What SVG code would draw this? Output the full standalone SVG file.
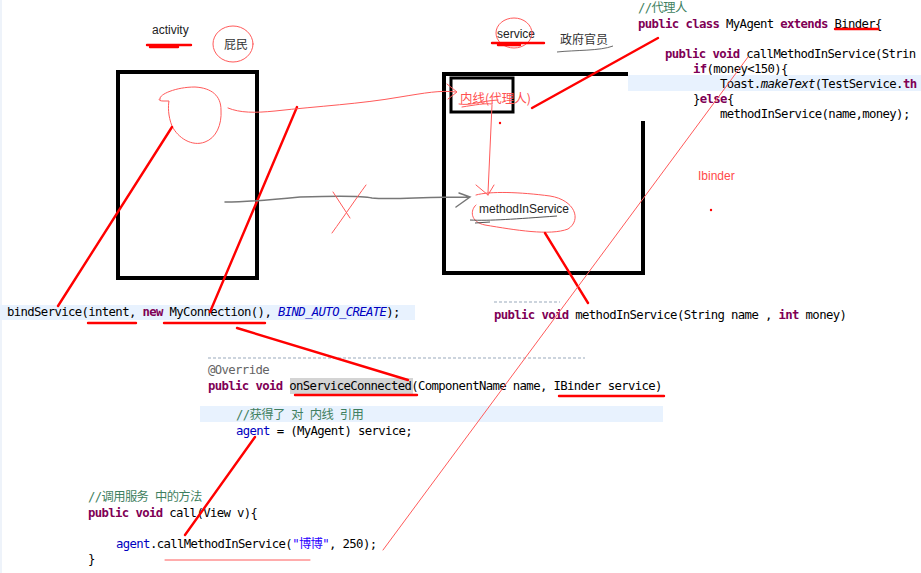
<svg xmlns="http://www.w3.org/2000/svg" width="921" height="573" viewBox="0 0 921 573">
<defs>
<style>
.code{font-family:"DejaVu Sans Mono","Liberation Mono","Noto Sans CJK SC",monospace;font-size:12.3px;letter-spacing:-0.63px;fill:#000}
.kw{fill:#7f0055;font-weight:bold}
.cm{fill:#3f7f5f}
.fld{fill:#0000c0}
.str{fill:#2a00ff}
.ital{font-style:italic}
.lbl{font-family:"Liberation Sans","Noto Sans CJK SC",sans-serif;font-size:12px;fill:#222}
.cjk{font-family:"Noto Sans CJK SC",sans-serif;font-size:12px;fill:#333}
.box{fill:none;stroke:#000;stroke-width:4}
.red{fill:none;stroke:#ff0000;stroke-width:2.4;stroke-linecap:round}
.pen{fill:none;stroke:#ff5a5a;stroke-width:1;stroke-linecap:round;stroke-linejoin:round}
.grey{fill:none;stroke:#777;stroke-width:1.5;stroke-linecap:round}
.hl{fill:#e8f2fe}
</style>
</defs>
<rect x="0" y="0" width="921" height="573" fill="#fff"/>
<rect x="0" y="0" width="2" height="573" fill="#eef3fa"/>

<!-- highlight bands -->
<rect class="hl" x="628" y="75" width="293" height="16"/>
<rect class="hl" x="0" y="305" width="415" height="15"/>
<rect class="hl" x="200" y="406" width="463" height="16"/>
<rect x="290" y="378" width="123" height="16" fill="#d4d4d4"/>

<!-- activity node -->
<g id="activity">
<text class="lbl" x="152" y="34">activity</text>
<path class="red" d="M147 45 L191 45 M150 47 L178 47" stroke-width="1.6"/>
<ellipse cx="233" cy="44" rx="20" ry="18" class="pen"/>
<text class="cjk" x="224" y="49">屁民</text>
<rect class="box" x="118" y="72" width="139" height="206"/>
<path class="pen" d="M160 99 C158 95 175 87 195 87 C212 88 221 96 221 110 C222 125 216 138 205 142 C192 147 178 138 172 126 C168 116 168 106 169 101 L163 101 C159 101 158 99 160 99"/>
</g>

<!-- service node -->
<g id="service">
<text class="lbl" x="497" y="38">service</text>
<ellipse cx="514" cy="33" rx="18" ry="15" class="pen"/>
<path class="red" d="M492 43 L544 43 M498 45 L520 45" stroke-width="1.6"/>
<text class="cjk" x="560" y="44">政府官员</text>
<path d="M557 52 C575 50 600 51 613 46" fill="none" stroke="#444" stroke-width="0.8"/>
<path class="box" d="M628 74 L444 74 L444 273 L643 273 L643 121"/>
</g>

<!-- agent (inner) node -->
<g id="agent">
<rect x="451" y="78" width="62" height="34" fill="none" stroke="#000" stroke-width="3"/>
<text x="460" y="103" font-family="Noto Sans CJK SC,sans-serif" font-size="12.5" fill="#ff5050">内线(代理人)</text>
<path class="pen" d="M459 104 C470 106 480 101 498 100 M462 107 C475 105 485 103 492 104"/>
<circle cx="500" cy="123" r="1.2" fill="#ff0000"/>
</g>

<!-- methodInService node -->
<g id="methodInService">
<path class="pen" d="M476 195 C490 191 520 192 550 196 C575 200 582 220 568 229 C550 236 515 230 485 225 C470 222 470 210 476 205"/>
<text class="lbl" x="479" y="213">methodInService</text>
<path d="M470 220 C490 221 515 219 557 216 M475 223 L490 222" fill="none" stroke="#555" stroke-width="1"/>
</g>

<!-- Ibinder label -->
<g id="ibinder">
<text x="698" y="180" font-family="Liberation Sans,sans-serif" font-size="12" fill="#ff4a4a">Ibinder</text>
<circle cx="711" cy="210" r="1.2" fill="#ff0000"/>
</g>

<!-- code: MyAgent -->
<g id="code-agent" class="code">
<text x="638" y="12" class="cm">//代理人</text>
<text x="638" y="28"><tspan class="kw">public</tspan> <tspan class="kw">class</tspan> MyAgent <tspan class="kw">extends</tspan> Binder{</text>
<text x="665" y="58"><tspan class="kw">public</tspan> <tspan class="kw">void</tspan> callMethodInService(Strin</text>
<text x="693" y="73"><tspan class="kw">if</tspan>(money&lt;150){</text>
<text x="720" y="88">Toast.<tspan class="ital">makeText</tspan>(TestService.<tspan class="kw">th</tspan></text>
<text x="693" y="103">}<tspan class="kw">else</tspan>{</text>
<text x="720" y="118">methodInService(name,money);</text>
</g>

<!-- code: bindService -->
<g id="code-bind" class="code">
<text x="7" y="316">bindService(intent, <tspan class="kw">new</tspan> MyConnection(), <tspan class="fld ital">BIND_AUTO_CREATE</tspan>);</text>
</g>

<!-- code: methodInService signature -->
<g id="code-method" class="code">
<path d="M494 302 L560 302" stroke="#9ab" stroke-width="1.2" stroke-dasharray="3 2"/>
<text x="494" y="319"><tspan class="kw">public</tspan> <tspan class="kw">void</tspan> methodInService(String name , <tspan class="kw">int</tspan> money)</text>
</g>

<!-- code: onServiceConnected -->
<g id="code-conn" class="code">
<path d="M208 358 L585 358" stroke="#9ab" stroke-width="1.2" stroke-dasharray="3 2"/>
<text x="208" y="374" fill="#646464">@Override</text>
<text x="208" y="390"><tspan class="kw">public</tspan> <tspan class="kw">void</tspan> onServiceConnected(ComponentName name, IBinder service)</text>
<text x="236" y="419" class="cm">//获得了 对 内线 引用</text>
<text x="236" y="435"><tspan class="fld">agent</tspan> = (MyAgent) service;</text>
</g>

<!-- code: call -->
<g id="code-call" class="code">
<text x="88" y="501" class="cm">//调用服务 中的方法</text>
<text x="88" y="517"><tspan class="kw">public</tspan> <tspan class="kw">void</tspan> call(View v){</text>
<text x="116" y="548"><tspan class="fld">agent</tspan>.callMethodInService(<tspan class="str">"博博"</tspan>, 250);</text>
<text x="88" y="563">}</text>
</g>

<!-- connectors -->
<g id="connectors">
<path class="red" d="M835 29 L878 29" stroke-width="1.8"/>
<path class="red" d="M88 323 L136 323 M164 323 L265 323" stroke-width="1.8"/>
<path class="red" d="M295 395 L417 395 M559 396 L664 396" stroke-width="1.8"/>
<path class="pen" d="M165 560 L310 560" stroke-width="1.2"/>
<path class="red" d="M172 127 L58 306"/>
<path class="red" d="M297 107 L210 312"/>
<path class="red" d="M237 328 L408 380"/>
<path class="red" d="M532 108 L658 38"/>
<path class="red" d="M545 233 L588 303"/>
<path class="red" d="M255 437 L185 535"/>
<path class="pen" d="M748 57 L383 550"/>
<path class="pen" d="M228 108 C240 113 255 113 275 111 C320 106 360 104 400 97 C425 93 440 90 456 92 M447 84 L457 92 L448 99"/>
<path class="pen" d="M492 105 L488 193 M476 185 L488 195 M494 185 L488 195"/>
<path class="grey" d="M225 202 C250 202 280 199 300 197 C330 196 360 195 372 198 C390 200 420 197 470 197 M459 193 L470 197 L456 207"/>
<path class="pen" d="M333 192 L350 218 M366 185 C355 200 345 215 332 233"/>
</g>
</svg>
